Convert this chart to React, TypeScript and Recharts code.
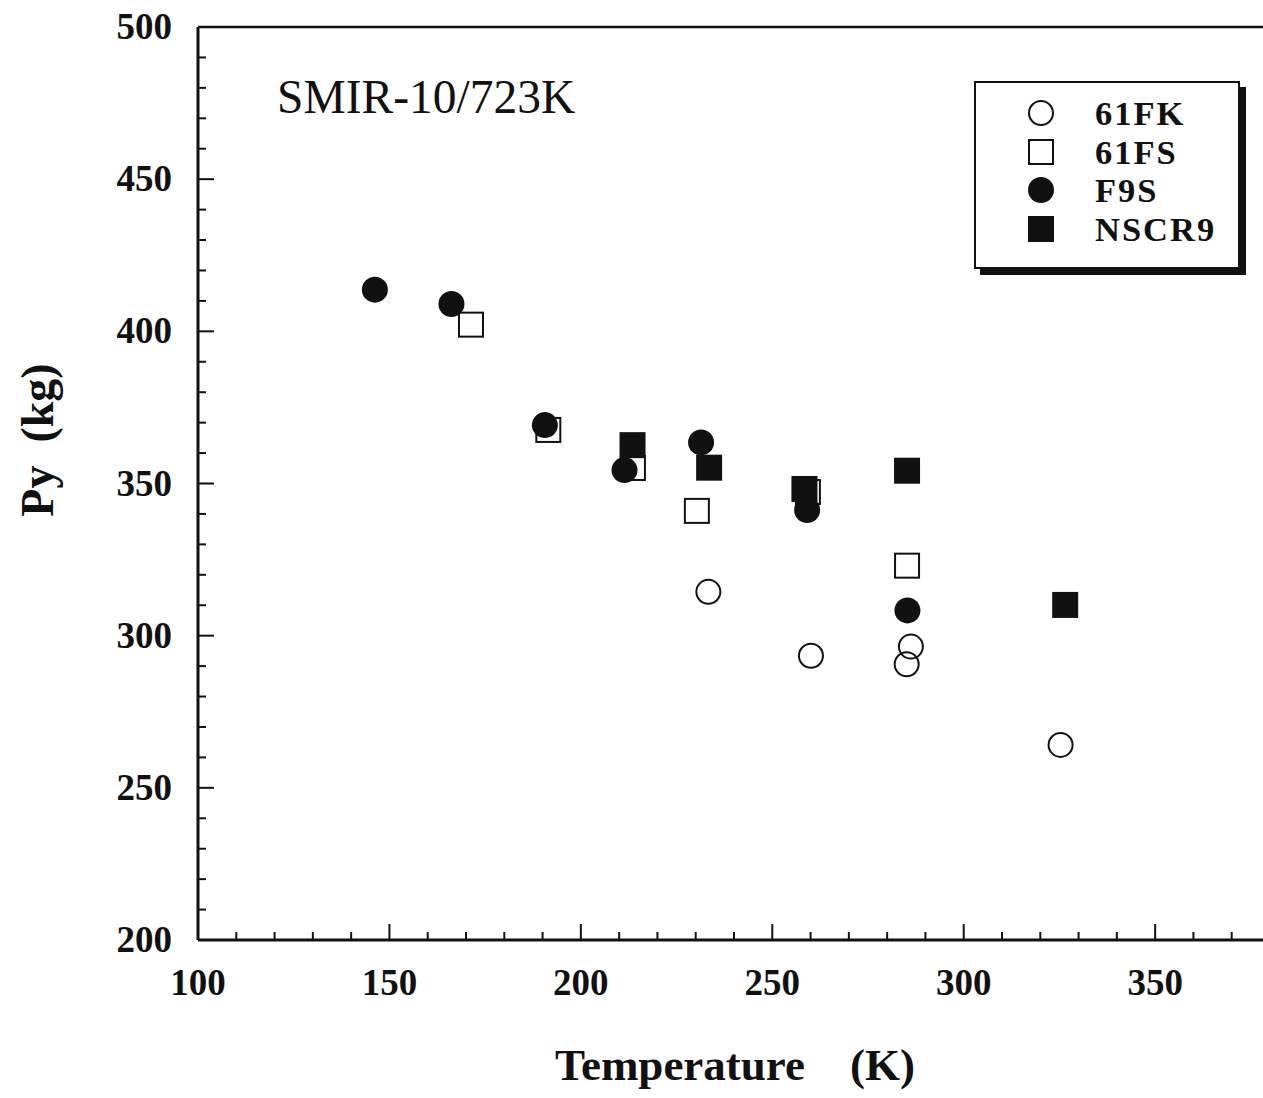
import React from 'react';
import { ScatterChart, Scatter, XAxis, YAxis, Legend } from 'recharts';

// Temperature (K) / Py (kg)
const temp61FK = [233.3, 260.1, 286.2, 285.1, 325.3];
const py61FK = [314.4, 293.4, 296.4, 290.6, 264.1];

const temp61FS = [171.3, 191.5, 213.6, 230.3, 259.3, 285.2];
const py61FS = [402.2, 367.6, 355.1, 341.0, 347.2, 323.0];

const tempF9S = [146.2, 166.2, 190.6, 211.4, 231.4, 259.1, 285.3];
const pyF9S = [413.7, 409.0, 369.2, 354.4, 363.5, 341.3, 308.3];

const tempNSCR9 = [213.5, 233.5, 258.4, 285.2, 326.5];
const pyNSCR9 = [362.6, 355.2, 348.2, 354.2, 310.1];

const xTicks = [100, 110, 120, 130, 140, 150, 160, 170, 180, 190, 200, 210, 220, 230, 240, 250, 260, 270, 280, 290, 300, 310, 320, 330, 340, 350, 360, 370, 380];
const yTicks = [200, 210, 220, 230, 240, 250, 260, 270, 280, 290, 300, 310, 320, 330, 340, 350, 360, 370, 380, 390, 400, 410, 420, 430, 440, 450, 460, 470, 480, 490, 500];

const FONT = '"Liberation Serif", "Times New Roman", serif';
const INK = '#111';

const PLOT_LEFT = 198;
const PLOT_RIGHT = 1270;
const PLOT_TOP = 27;
const PLOT_BOTTOM = 940;
const MAJOR = 16;
const MINOR = 8;

const toPoints = (ts: number[], ps: number[]) => ts.map((t, i) => ({ t, py: ps[i] }));

type Kind = 'openCircle' | 'openSquare' | 'filledCircle' | 'filledSquare';

const series: { name: string; kind: Kind; data: { t: number; py: number }[] }[] = [
  { name: '61FK', kind: 'openCircle', data: toPoints(temp61FK, py61FK) },
  { name: '61FS', kind: 'openSquare', data: toPoints(temp61FS, py61FS) },
  { name: 'F9S', kind: 'filledCircle', data: toPoints(tempF9S, pyF9S) },
  { name: 'NSCR9', kind: 'filledSquare', data: toPoints(tempNSCR9, pyNSCR9) },
];

function Marker({ kind, cx, cy }: { kind: Kind; cx: number; cy: number }) {
  const r = 13;
  if (kind === 'openCircle') return <circle cx={cx} cy={cy} r={r - 1} fill="none" stroke={INK} strokeWidth={2} />;
  if (kind === 'filledCircle') return <circle cx={cx} cy={cy} r={r} fill={INK} />;
  if (kind === 'openSquare')
    return <rect x={cx - r + 1} y={cy - r + 1} width={2 * r - 2} height={2 * r - 2} fill="#fff" stroke={INK} strokeWidth={2} />;
  return <rect x={cx - r} y={cy - r} width={2 * r} height={2 * r} fill={INK} />;
}

const isMajor = (v: number) => v % 50 === 0;

const BottomTick = (props: any) => {
  const { x, payload } = props;
  const v = payload.value;
  const len = isMajor(v) ? MAJOR : MINOR;
  return (
    <g>
      <line x1={x} x2={x} y1={PLOT_BOTTOM} y2={PLOT_BOTTOM - len} stroke={INK} strokeWidth={2} />
      {isMajor(v) && (
        <text x={x} y={995} textAnchor="middle" fontFamily={FONT} fontWeight="bold" fontSize={37} fill={INK}>
          {v}
        </text>
      )}
    </g>
  );
};

const TopTick = (props: any) => {
  const { x, payload } = props;
  const len = isMajor(payload.value) ? MAJOR : MINOR;
  return <line x1={x} x2={x} y1={PLOT_TOP} y2={PLOT_TOP + len} stroke={INK} strokeWidth={2} />;
};

const LeftTick = (props: any) => {
  const { y, payload } = props;
  const v = payload.value;
  const len = isMajor(v) ? MAJOR : MINOR;
  return (
    <g>
      <line x1={PLOT_LEFT} x2={PLOT_LEFT + len} y1={y} y2={y} stroke={INK} strokeWidth={2} />
      {isMajor(v) && (
        <text x={172} y={y + 12} textAnchor="end" fontFamily={FONT} fontWeight="bold" fontSize={37} fill={INK}>
          {v}
        </text>
      )}
    </g>
  );
};

const RightTick = (props: any) => {
  const { y, payload } = props;
  const len = isMajor(payload.value) ? MAJOR : MINOR;
  return <line x1={PLOT_RIGHT} x2={PLOT_RIGHT - len} y1={y} y2={y} stroke={INK} strokeWidth={2} />;
};

const YTitle = () => (
  <text
    x={37}
    y={440}
    transform="rotate(-90 37 440)"
    textAnchor="middle"
    dominantBaseline="central"
    fontFamily={FONT}
    fontWeight="bold"
    fontSize={46}
    fill={INK}
    style={{ whiteSpace: 'pre' }}
  >
    {'Py  (kg)'}
  </text>
);

const XTitle = () => (
  <text x={735} y={1080} textAnchor="middle" fontFamily={FONT} fontWeight="bold" fontSize={45} fill={INK} style={{ whiteSpace: 'pre' }}>
    {'Temperature    (K)'}
  </text>
);

const PlotLabel = () => (
  <text x={277} y={113} fontFamily={FONT} fontSize={47.5} fill={INK}>
    SMIR-10/723K
  </text>
);

const LegendBox = () => (
  <div
    style={{
      width: 262,
      height: 173,
      border: `2px solid ${INK}`,
      boxShadow: `6px 6px 0 ${INK}`,
      background: '#fff',
      paddingTop: 11,
      boxSizing: 'content-box',
      fontFamily: FONT,
    }}
  >
    {series.map((s) => (
      <div key={s.name} style={{ display: 'flex', alignItems: 'center', height: 38.5 }}>
        <svg width={30} height={30} style={{ marginLeft: 50, flex: 'none' }}>
          <Marker kind={s.kind} cx={15} cy={15} />
        </svg>
        <span style={{ marginLeft: 39, fontSize: 34.5, letterSpacing: 2, fontWeight: 'bold', lineHeight: '38px', color: INK }}>
          {s.name}
        </span>
      </div>
    ))}
  </div>
);

export default function App() {
  return (
    <div style={{ position: 'absolute', left: 0, top: 0, width: 1263, height: 1098, overflow: 'hidden', background: '#fff' }}>
      <ScatterChart width={1290} height={1098} margin={{ top: 0, right: 0, bottom: 0, left: 0 }}>
        <XAxis
          xAxisId="b"
          type="number"
          dataKey="t"
          domain={[100, 380]}
          ticks={xTicks}
          interval={0}
          height={158}
          axisLine={{ stroke: INK, strokeWidth: 3 }}
          tickLine={false}
          tick={BottomTick}
          label={{ content: XTitle }}
        />
        <XAxis
          xAxisId="t"
          orientation="top"
          type="number"
          dataKey="t"
          domain={[100, 380]}
          ticks={xTicks}
          interval={0}
          height={27}
          axisLine={{ stroke: INK, strokeWidth: 2.5 }}
          tickLine={false}
          tick={TopTick}
          label={{ content: PlotLabel }}
        />
        <YAxis
          yAxisId="l"
          type="number"
          dataKey="py"
          domain={[200, 500]}
          ticks={yTicks}
          interval={0}
          width={198}
          axisLine={{ stroke: INK, strokeWidth: 3 }}
          tickLine={false}
          tick={LeftTick}
          label={{ content: YTitle }}
        />
        <YAxis
          yAxisId="r"
          orientation="right"
          type="number"
          dataKey="py"
          domain={[200, 500]}
          ticks={yTicks}
          interval={0}
          width={20}
          axisLine={{ stroke: INK, strokeWidth: 3 }}
          tickLine={false}
          tick={RightTick}
        />
        <Legend
          layout="vertical"
          align="center"
          verticalAlign="middle"
          content={LegendBox}
          wrapperStyle={{ position: 'absolute', left: 974, top: 81, width: 'auto', height: 'auto' }}
        />
        {series.map((s) => (
          <Scatter
            key={s.name}
            name={s.name}
            data={s.data}
            xAxisId="b"
            yAxisId="l"
            isAnimationActive={false}
            shape={(p: any) => <Marker kind={s.kind} cx={p.cx} cy={p.cy} />}
          />
        ))}
      </ScatterChart>
    </div>
  );
}
